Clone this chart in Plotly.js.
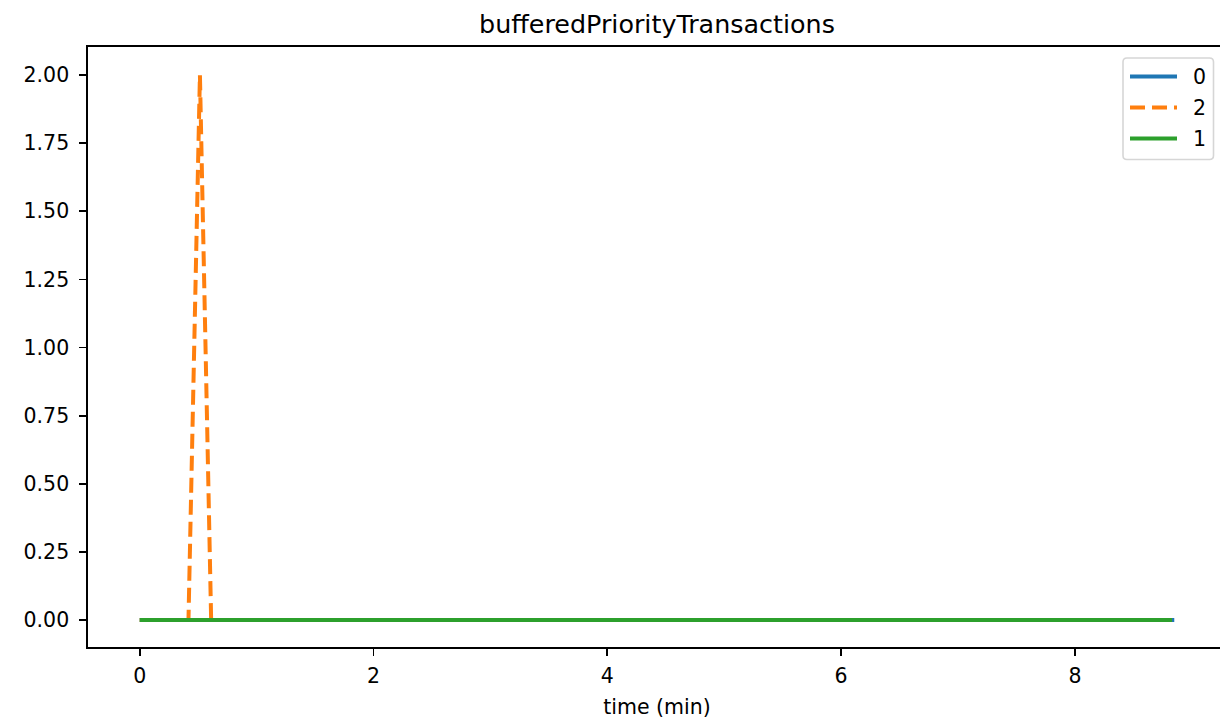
<!DOCTYPE html>
<html>
<head>
<meta charset="utf-8">
<script src="https://cdn.plot.ly/plotly-3.0.1.min.js"></script>
<style>
html,body{margin:0;padding:0;overflow:hidden;background:#fff;}
#chart{width:1227px;height:721px;}
</style>
</head>
<body>
<div id="chart"></div>
<script>
// series "0"
const time0 = [0, 8.85];
const vals0 = [0, 0];
// series "2"
const time2 = [0, 0.417, 0.515, 0.611, 8.83];
const vals2 = [0, 0, 2, 0, 0];
// series "1"
const time1 = [0, 8.83];
const vals1 = [0, 0];

const seriesNames = ['0', '2', '1'];
const seriesColors = ['#1f77b4', '#ff7f0e', '#2ca02c'];
const seriesDash = ['solid', '15px,7px', 'solid'];

const yTicks = [0, 0.25, 0.5, 0.75, 1, 1.25, 1.5, 1.75, 2];
const xTicks = [0, 2, 4, 6, 8];

const xs = [time0, time2, time1];
const ys = [vals0, vals2, vals1];

const traces = seriesNames.map((n, i) => ({
  x: xs[i], y: ys[i], name: n, mode: 'lines',
  line: {color: seriesColors[i], width: 4, dash: seriesDash[i]}
}));

const FF = 'DejaVu Sans, sans-serif';
const FS = 20.5;

// plot area in pixels: left 88, right 1226, top 47, bottom 647
const PL = 88, PR = 1226, PT = 47, PB = 647;
const px = v => (v - PL) / (PR - PL);
const py = v => (PB - v) / (PB - PT);

// legend box (rounded)
const bx0 = 1123, bx1 = 1213.5, by0 = 58, by1 = 159.5, r = 4;
const path = [
  `M${px(bx0 + r)},${py(by0)}`,
  `L${px(bx1 - r)},${py(by0)}`,
  `Q${px(bx1)},${py(by0)} ${px(bx1)},${py(by0 + r)}`,
  `L${px(bx1)},${py(by1 - r)}`,
  `Q${px(bx1)},${py(by1)} ${px(bx1 - r)},${py(by1)}`,
  `L${px(bx0 + r)},${py(by1)}`,
  `Q${px(bx0)},${py(by1)} ${px(bx0)},${py(by1 - r)}`,
  `L${px(bx0)},${py(by0 + r)}`,
  `Q${px(bx0)},${py(by0)} ${px(bx0 + r)},${py(by0)}`,
  'Z'
].join(' ');

const shapes = [{
  type: 'path', xref: 'paper', yref: 'paper', path: path,
  fillcolor: 'rgba(255,255,255,0.8)', line: {color: '#d6d6d6', width: 1.6}, layer: 'above'
}];
const annotations = [];
const rowY = [76.5, 107.5, 138.5];
seriesNames.forEach((n, i) => {
  shapes.push({
    type: 'line', xref: 'paper', yref: 'paper',
    x0: px(1130), x1: px(1177), y0: py(rowY[i]), y1: py(rowY[i]),
    line: {color: seriesColors[i], width: 4, dash: seriesDash[i]}, layer: 'above'
  });
  annotations.push({
    xref: 'paper', yref: 'paper', x: px(1191), y: py(rowY[i]),
    xanchor: 'left', yanchor: 'middle', text: n, showarrow: false,
    font: {family: FF, size: FS, color: '#000'}
  });
});

const layout = {
  width: 1227, height: 721,
  margin: {l: PL, r: 1227 - PR, t: PT, b: 721 - PB},
  paper_bgcolor: '#fff', plot_bgcolor: '#fff',
  font: {family: FF, size: FS, color: '#000'},
  title: {text: 'bufferedPriorityTransactions', font: {family: FF, size: 25.4, color: '#000'}, x: 0.5, xref: 'paper', xanchor: 'center', y: 1 - 24/721, yref: 'container', yanchor: 'middle'},
  showlegend: false,
  shapes: shapes,
  annotations: annotations,
  xaxis: {
    range: [-0.4425, 9.2925], tickvals: xTicks, ticktext: xTicks.map(String),
    showgrid: false, zeroline: false, showline: true, linecolor: '#000', linewidth: 1.7, mirror: true,
    ticks: 'outside', ticklen: 7, tickwidth: 1.7, tickcolor: '#000', ticklabelstandoff: 3,
    title: {text: 'time (min)', font: {family: FF, size: FS, color: '#000'}, standoff: 12},
    tickfont: {family: FF, size: FS, color: '#000'}
  },
  yaxis: {
    range: [-0.099, 2.103], tickvals: yTicks, ticktext: yTicks.map(v => v.toFixed(2)),
    showgrid: false, zeroline: false, showline: true, linecolor: '#000', linewidth: 1.7, mirror: true,
    ticks: 'outside', ticklen: 7, tickwidth: 1.7, tickcolor: '#000', ticklabelstandoff: 6,
    tickfont: {family: FF, size: FS, color: '#000'}
  }
};

Plotly.newPlot('chart', traces, layout, {displayModeBar: false, staticPlot: true});
</script>
</body>
</html>
